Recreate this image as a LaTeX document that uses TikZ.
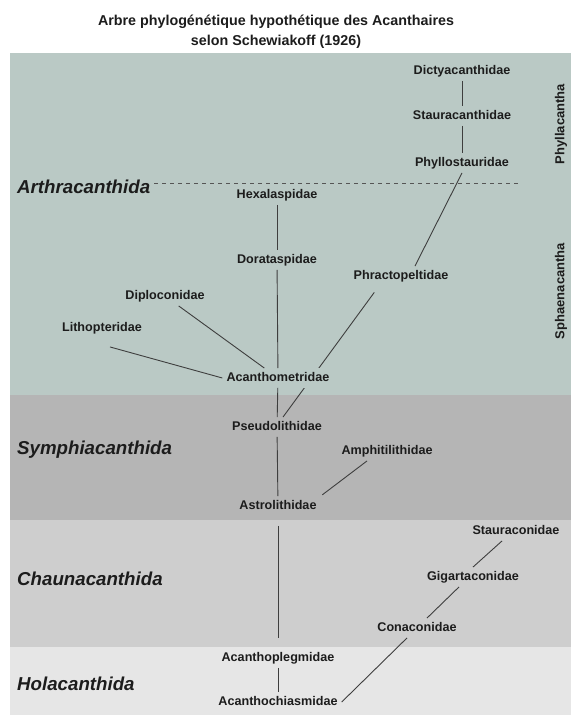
\documentclass[tikz,border=0pt]{standalone}
\usepackage{fontspec}
\setmainfont{Liberation Sans}
\definecolor{sage}{RGB}{186,201,197}
\definecolor{stone}{RGB}{181,181,181}
\definecolor{ash}{RGB}{206,206,206}
\definecolor{mist}{RGB}{230,230,230}
\definecolor{ink}{RGB}{28,28,28}

\begin{document}
\begin{tikzpicture}[x=1pt, y=-1pt,
    family/.style={font=\fontsize{12.6}{15}\selectfont\bfseries, text=ink, inner sep=4pt, text height=9pt, text depth=2.5pt},
    order/.style={font=\fontsize{18.7}{22}\selectfont\bfseries\itshape, text=ink, inner sep=4pt, right},
    group/.style={font=\fontsize{13}{15}\selectfont\bfseries, text=ink, rotate=90},
    link/.style={draw=ink!85, line width=0.9pt}]
%      \draw [help lines, opacity=0.5] (0,0) grid [step=50] (571,715);
      \useasboundingbox (0,0) rectangle (571,715);
      \foreach \top/\bot/\col in {53/395/sage, 395/520/stone, 520/647/ash, 647/715/mist}
        \fill [\col] (10,\top) rectangle (571,\bot);

      \node [font=\fontsize{14.3}{20}\selectfont\bfseries, text=ink, align=center] (title) at (276,32)
        {Arbre phylogénétique hypothétique des Acanthaires\\selon Schewiakoff (1926)};

      \node [order] (art) at (13,187) {Arthracanthida};
      \node [order] (sym) at (13,450) {Symphiacanthida};
      \node [order] (cha) at (13,579) {Chaunacanthida};
      \node [order] (hol) at (13,684) {Holacanthida};
      \coordinate (cut) at (520,183);
      \draw [ink!75, line width=0.9pt, dash pattern=on 4pt off 4pt] (art.east |- cut) -- (cut);

      \node [group] (phl) at (561,124) {Phyllacantha};
      \node [group] (sph) at (561,291) {Sphaenacantha};

      \node [family] (dic) at (462,71) {Dictyacanthidae};
      \node [family] (sta) at (462,116) {Stauracanthidae};
      \node [family] (phy) at (462,163) {Phyllostauridae};
      \node [family] (hex) at (277,195) {Hexalaspidae};
      \node [family] (dor) at (277,260) {Dorataspidae};
      \node [family] (phr) at (401,276) {Phractopeltidae};
      \node [family] (dip) at (165,296) {Diploconidae};
      \node [family] (lit) at (102,328) {Lithopteridae};
      \node [family] (pse) at (277,427) {Pseudolithidae};
      \node [family] (amp) at (387,451) {Amphitilithidae};
      \node [family] (ast) at (278,506) {Astrolithidae};
      \node [family] (stc) at (516,531) {Stauraconidae};
      \node [family] (gig) at (473,577) {Gigartaconidae};
      \node [family] (con) at (417,628) {Conaconidae};
      \node [family] (apl) at (278,658) {Acanthoplegmidae};
      \node [family] (ach) at (278,702) {Acanthochiasmidae};

      % runs under the Acanthometridae label
      \draw [link, shorten <=8pt] ([xshift=-22pt]phr.south) -- ([xshift=6pt]pse.north);
      \node [family, fill=sage] (acm) at (278,378) {Acanthometridae};

      \draw [link] (dic) -- (sta);
      \draw [link] (sta) -- (phy);
      \draw [link] (phy.south) -- ([xshift=14pt]phr.north);
      \draw [link] (hex) -- (dor);
      \draw [link] (dor) -- (acm);
      \draw [link] (dip) -- (acm);
      \draw [link] ([xshift=8pt,yshift=-9pt]lit.south) -- (acm.west);
      \draw [link] (acm) -- (pse);
      \draw [link] (pse) -- (ast);
      \draw [link, shorten >=2pt] ([xshift=-20pt]amp.south) -- (ast.north east);
      \draw [link, shorten <=10pt, shorten >=10pt] (ast) -- (apl);
      \draw [link] (apl) -- (ach);
      \draw [link] ([xshift=-14pt]stc.south) -- (gig.north);
      \draw [link] ([xshift=-14pt]gig.south) -- ([xshift=10pt]con.north);
      \draw [link] ([xshift=-10pt]con.south) -- (ach.east);
\end{tikzpicture}
\end{document}
